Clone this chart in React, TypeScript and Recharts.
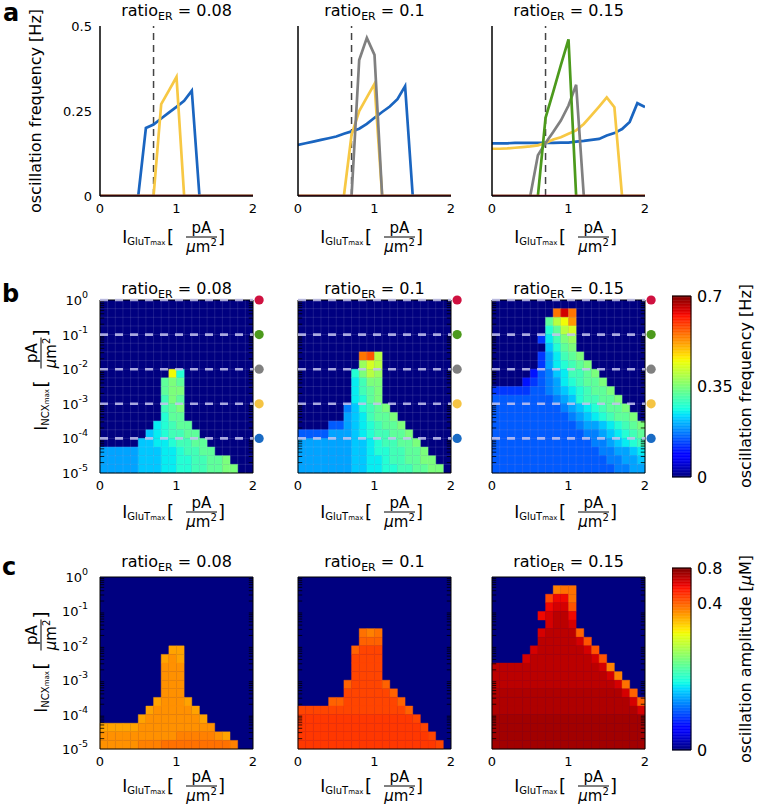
import React from 'react';
import {
  LineChart,
  Line,
  XAxis,
  YAxis,
  ReferenceLine,
  ReferenceArea,
  ReferenceDot,
  ScatterChart,
} from 'recharts';

const FONT = '"DejaVu Sans", Verdana, sans-serif';

// ---------------- data ----------------
const RATIOS = ['0.08', '0.1', '0.15'];
const GLUT = [0, 0.1, 0.2, 0.3, 0.4, 0.5, 0.6, 0.7, 0.8, 0.9, 1.0, 1.1, 1.2, 1.3, 1.4, 1.5, 1.6, 1.7, 1.8, 1.9, 2.0];
const GLUT_TICKS = [0, 1, 2];
const FREQ_TICKS_A = [0, 0.25, 0.5];
const NCX_LOG_EDGES = [0, -0.25, -0.5, -0.75, -1, -1.25, -1.5, -1.75, -2, -2.25, -2.5, -2.75, -3, -3.25, -3.5, -3.75, -4, -4.25, -4.5, -4.75, -5];
const NCX_DECADES = [-5, -4, -3, -2, -1, 0];
const DOT_DECADES = [0, -1, -2, -3, -4];
const DOT_COLORS = ['#cf1140', '#4c9a1c', '#808080', '#f5c443', '#1a6bc4'];
const STIM_LINE = 0.7;

// panel a: oscillation frequency [Hz] vs I_GluT (one array per NCX level)
const BLUE_R008 = [0, 0, 0, 0, 0, 0, 0.2, 0.21, 0.228, 0.245, 0.262, 0.28, 0.31, 0, 0, 0, 0, 0, 0, 0, 0];
const YELLOW_R008 = [0, 0, 0, 0, 0, 0, 0, 0, 0.27, 0.31, 0.35, 0, 0, 0, 0, 0, 0, 0, 0, 0, 0];
const GRAY_R008 = [0, 0, 0, 0, 0, 0, 0, 0, 0, 0, 0, 0, 0, 0, 0, 0, 0, 0, 0, 0, 0];
const GREEN_R008 = [0, 0, 0, 0, 0, 0, 0, 0, 0, 0, 0, 0, 0, 0, 0, 0, 0, 0, 0, 0, 0];
const RED_R008 = [0, 0, 0, 0, 0, 0, 0, 0, 0, 0, 0, 0, 0, 0, 0, 0, 0, 0, 0, 0, 0];

const BLUE_R010 = [0.15, 0.155, 0.16, 0.165, 0.17, 0.175, 0.183, 0.19, 0.198, 0.212, 0.23, 0.247, 0.263, 0.285, 0.323, 0, 0, 0, 0, 0, 0];
const YELLOW_R010 = [0, 0, 0, 0, 0, 0, 0, 0.18, 0.25, 0.29, 0.33, 0, 0, 0, 0, 0, 0, 0, 0, 0, 0];
const GRAY_R010 = [0, 0, 0, 0, 0, 0, 0, 0, 0.4, 0.465, 0.415, 0, 0, 0, 0, 0, 0, 0, 0, 0, 0];
const GREEN_R010 = [0, 0, 0, 0, 0, 0, 0, 0, 0, 0, 0, 0, 0, 0, 0, 0, 0, 0, 0, 0, 0];
const RED_R010 = [0, 0, 0, 0, 0, 0, 0, 0, 0, 0, 0, 0, 0, 0, 0, 0, 0, 0, 0, 0, 0];

const BLUE_R015 = [0.155, 0.155, 0.155, 0.156, 0.156, 0.156, 0.156, 0.156, 0.156, 0.157, 0.157, 0.16, 0.162, 0.165, 0.168, 0.178, 0.185, 0.197, 0.218, 0.273, 0.262];
const YELLOW_R015 = [0.139, 0.139, 0.14, 0.142, 0.144, 0.146, 0.149, 0.156, 0.166, 0.173, 0.183, 0.193, 0.212, 0.237, 0.263, 0.29, 0.261, 0, 0, 0, 0];
const GRAY_R015 = [0, 0, 0, 0, 0, 0, 0.12, 0.156, 0.188, 0.222, 0.266, 0.327, 0, 0, 0, 0, 0, 0, 0, 0, 0];
const GREEN_R015 = [0, 0, 0, 0, 0, 0, 0, 0.23, 0.306, 0.385, 0.461, 0, 0, 0, 0, 0, 0, 0, 0, 0, 0];
const RED_R015 = [0, 0, 0, 0, 0, 0, 0, 0, 0, 0, 0, 0, 0, 0, 0, 0, 0, 0, 0, 0, 0];

// panels b/c: grid rows from top (10^0) to bottom (10^-5), columns I_GluT 0..2.
// '.' = no oscillation; otherwise value = base36(char) * 0.025
const LEVEL_STEP = 0.025;
const FREQ_R008 = [
  '....................', '....................', '....................', '....................',
  '....................', '....................', '....................', '....................',
  '.........ib.........', '........ded.........', '........dee.........', '........ced.........',
  '........cde.........', '........bdd.........', '.......abcdd........', '......9abccdd.......',
  '.....99aabccdd......', '88888999aabccdd.....', '88888999aabbccdde...', '88888999aabbccddee..',
];
const FREQ_R010 = [
  '....................', '....................', '....................', '....................',
  '....................', '....................', '........mng.........', '........fhg.........',
  '.......begf.........', '.......acee.........', '.......acde.........', '.......abde.........',
  '......79bcde........', '......89acdde.......', '....6689abcdde......', '66668889abccdde.....',
  '888888899abccdde....', '888888899abbccdde...', '888888899aabccddee..', '888888899aabbccddee.',
];
const FREQ_R015 = [
  '....................', '........mqm.........', '.......dgil.........', '.......bdgh.........',
  '......5acef.........', '.......9bde.........', '......58acde........', '......58abcde.......',
  '.....4679accde......', '....45678abcdde.....', '5555566789abcdde....', '66666666789bccdde...',
  '666666666789abcdde..', '6666666666789abcdde.', '666666666667889abcde', '6666666666667789abcd',
  '66666666666667789abc', '6666666666666677889a', '66666666666666677889', '66666666666666667788',
];
const AMP_R008 = [
  '....................', '....................', '....................', '....................',
  '....................', '....................', '....................', '....................',
  '.........cc.........', '........cdc.........', '........ddd.........', '........ddd.........',
  '........ddd.........', '........ddd.........', '.......cdddc........', '......cdddddc.......',
  '.....cdddddddc......', 'cccccdddddddddd.....', 'ddddddddddeeeeedc...', 'dddddeeefffffffffe..',
];
const AMP_R010 = [
  '....................', '....................', '....................', '....................',
  '....................', '....................', '........fef.........', '........ggg.........',
  '.......giii.........', '.......iiii.........', '.......iiii.........', '.......iiii.........',
  '......giiiig........', '......iiiiiig.......', '....ggiiiiiiig......', 'iiiiiiiiiiiiiig.....',
  'jjjjjjjjjjjjjjji....', 'jjjjjjjjjjjjjjjji...', 'jjjjjjjjjjjjjjjjji..', 'jjjjjjjjjjjjjjjjjji.',
];
const AMP_R015 = [
  '....................', '........eff.........', '.......innf.........', '.......npph.........',
  '......nprrn.........', '.......prrp.........', '......prrrrg........', '......rrrrrph.......',
  '.....prrrrrrph......', '....prrrrrrrrph.....', 'rrrrrrrrrrrrrrpe....', 'rrrrrrrrrrrrrrrpe...',
  'rrrrrrrrrrrrrrrrpf..', 'ssssssssssssssssspg.', 'sssssssssssssssssspg',
  'sssssssssssssssssssp', 'tttttttttttttttttttt', 'tttttttttttttttttttt', 'tttttttttttttttttttt', 'tttttttttttttttttttt',
];
const FREQ_GRIDS = [FREQ_R008, FREQ_R010, FREQ_R015];
const AMP_GRIDS = [AMP_R008, AMP_R010, AMP_R015];
const FREQ_MAX = 0.7;
const FREQ_CB_TICKS = [0, 0.35, 0.7];
const AMP_MAX = 0.8;
const AMP_GAMMA = 0.31;
const AMP_CB_TICKS = [0, 0.4, 0.8];

const LINE_SETS = [
  { blue: BLUE_R008, yellow: YELLOW_R008, gray: GRAY_R008, green: GREEN_R008, red: RED_R008 },
  { blue: BLUE_R010, yellow: YELLOW_R010, gray: GRAY_R010, green: GREEN_R010, red: RED_R010 },
  { blue: BLUE_R015, yellow: YELLOW_R015, gray: GRAY_R015, green: GREEN_R015, red: RED_R015 },
];
const LINE_KEYS = [
  { key: 'blue', color: '#1a65c0' },
  { key: 'yellow', color: '#f7c844' },
  { key: 'gray', color: '#808080' },
  { key: 'green', color: '#4c9a1c' },
  { key: 'red', color: '#d0102e' },
];

// ---------------- layout ----------------
const COLS_X = [100, 298, 492];
const PW = 153;
const A_TOP = 26, A_H = 170;
const B_TOP = 300, B_H = 173;
const C_TOP = 577, C_H = 172;
const CB_X = 672, CB_W = 19;
const CB_STEPS = 120;
const MINOR_LEN = 0.055;

// ---------------- colormap ----------------
type Seg = [number, number][];
const JET_R: Seg = [[0, 0], [0.35, 0], [0.66, 1], [0.89, 1], [1, 0.5]];
const JET_G: Seg = [[0, 0], [0.125, 0], [0.375, 1], [0.64, 1], [0.91, 0], [1, 0]];
const JET_B: Seg = [[0, 0.5], [0.11, 1], [0.34, 1], [0.65, 0], [1, 0]];
function segv(p: Seg, t: number) {
  const u = Math.max(0, Math.min(1, t));
  for (let k = 1; k < p.length; k++) {
    if (u <= p[k][0]) {
      const [a, va] = p[k - 1];
      const [b, vb] = p[k];
      return va + ((vb - va) * (u - a)) / (b - a);
    }
  }
  return p[p.length - 1][1];
}
function jet(t: number) {
  const r = Math.round(255 * segv(JET_R, t));
  const g = Math.round(255 * segv(JET_G, t));
  const b = Math.round(255 * segv(JET_B, t));
  return `rgb(${r},${g},${b})`;
}
const ampNorm = (a: number) => Math.pow(Math.max(0, a) / AMP_MAX, AMP_GAMMA);

// minor log ticks (2..9 x 10^d)
const MINOR_TICKS: number[] = [];
for (let d = -5; d < 0; d++) for (let k = 2; k < 10; k++) MINOR_TICKS.push(d + Math.log10(k));

const TICK_STYLE = { fontSize: 13, fill: '#000', fontFamily: FONT };

function LogTick(props: any) {
  const { x, y, payload } = props;
  return (
    <text x={x} y={y} dy={5} textAnchor="end" fontFamily={FONT} fontSize={13} fill="#000">
      10
      <tspan fontSize={9.5} dy={-7}>{String(payload.value)}</tspan>
    </text>
  );
}

function LinePanel({ i }: { i: number }) {
  const x0 = COLS_X[i];
  const set: any = LINE_SETS[i];
  const data = GLUT.map((g, k) => ({
    x: g,
    blue: set.blue[k],
    yellow: set.yellow[k],
    gray: set.gray[k],
    green: set.green[k],
    red: set.red[k],
  }));
  return (
    <div style={{ position: 'absolute', left: x0 - 52, top: A_TOP - 10 }}>
      <LineChart width={52 + PW + 16} height={A_H + 70} data={data} margin={{ top: 10, right: 16, bottom: 0, left: 2 }}>
        <XAxis type="number" dataKey="x" domain={[0, 2]} ticks={GLUT_TICKS} interval={0} allowDataOverflow height={60}
          tickLine={false} axisLine={{ stroke: '#000', strokeWidth: 1.5 }} tick={TICK_STYLE} />
        <YAxis type="number" domain={[0, 0.5]} ticks={FREQ_TICKS_A} interval={0} allowDataOverflow width={50}
          tickLine={false} axisLine={{ stroke: '#000', strokeWidth: 1.5 }} tick={i === 0 ? TICK_STYLE : false}
          tickFormatter={(v: number) => String(v)} />
        <ReferenceLine x={STIM_LINE} stroke="#444" strokeDasharray="7 5" strokeWidth={1.5} />
        {LINE_KEYS.map((l) => (
          <Line key={l.key} type="linear" dataKey={l.key} stroke={l.color} strokeWidth={2.7} dot={false}
            isAnimationActive={false} />
        ))}
      </LineChart>
    </div>
  );
}

function HeatPanel({ i, kind }: { i: number; kind: 'freq' | 'amp' }) {
  const isFreq = kind === 'freq';
  const grid = isFreq ? FREQ_GRIDS[i] : AMP_GRIDS[i];
  const top = isFreq ? B_TOP : C_TOP;
  const h = isFreq ? B_H : C_H;
  const x0 = COLS_X[i];
  const cells: any[] = [];
  grid.forEach((row, r) => {
    for (let c = 0; c < 20; c++) {
      const ch = row[c];
      if (!ch || ch === '.') continue;
      const v = parseInt(ch, 36) * LEVEL_STEP;
      cells.push({
        x1: GLUT[c],
        x2: GLUT[c + 1],
        y1: NCX_LOG_EDGES[r + 1],
        y2: NCX_LOG_EDGES[r],
        fill: isFreq ? jet(v / FREQ_MAX) : jet(ampNorm(v)),
      });
    }
  });
  return (
    <div style={{ position: 'absolute', left: x0 - 52, top: top - 10 }}>
      <ScatterChart width={52 + PW + 16} height={h + 70} margin={{ top: 10, right: 16, bottom: 0, left: 2 }}>
        <XAxis type="number" dataKey="x" domain={[0, 2]} ticks={GLUT_TICKS} interval={0} allowDataOverflow height={60}
          tickLine={false} axisLine={false} tick={TICK_STYLE} />
        <YAxis type="number" dataKey="y" domain={[-5, 0]} ticks={NCX_DECADES} interval={0} allowDataOverflow width={50}
          tickLine={false} axisLine={false} tickMargin={6} tick={i === 0 ? <LogTick /> : false} />
        <ReferenceArea x1={0} x2={2} y1={-5} y2={0} fill={jet(0)} fillOpacity={1} stroke="none" />
        {cells.map((c, k) => (
          <ReferenceArea key={k} x1={c.x1} x2={c.x2} y1={c.y1} y2={c.y2} fill={c.fill} fillOpacity={1}
            stroke={c.fill} strokeWidth={0.4} />
        ))}
        {isFreq && GLUT.slice(1, 20).map((g) => (
          <ReferenceLine key={'gx' + g} x={g} stroke="#ffffff" strokeOpacity={0.14} strokeWidth={0.8} />
        ))}
        {isFreq && NCX_LOG_EDGES.slice(1, 20).map((e) => (
          <ReferenceLine key={'gy' + e} y={e} stroke="#ffffff" strokeOpacity={0.14} strokeWidth={0.8} />
        ))}
        {MINOR_TICKS.map((m) => (
          <ReferenceLine key={'ml' + m} segment={[{ x: 0, y: m }, { x: MINOR_LEN, y: m }]} stroke="#000"
            strokeWidth={0.8} />
        ))}
        {MINOR_TICKS.map((m) => (
          <ReferenceLine key={'mr' + m} segment={[{ x: 2 - MINOR_LEN, y: m }, { x: 2, y: m }]} stroke="#000"
            strokeWidth={0.8} />
        ))}
        {isFreq && DOT_DECADES.map((d) => (
          <ReferenceLine key={'dl' + d} y={d} stroke="#c4c4ee" strokeOpacity={0.85} strokeWidth={2.6}
            strokeDasharray="8 7" ifOverflow="visible" />
        ))}
        {isFreq && DOT_DECADES.map((d, k) => (
          <ReferenceDot key={'dot' + d} x={2.08} y={d} r={4.6} fill={DOT_COLORS[k]} stroke="none" ifOverflow="visible" />
        ))}
        <ReferenceArea x1={0} x2={2} y1={-5} y2={0} fill="none" stroke="#000" strokeWidth={1} ifOverflow="visible" />
      </ScatterChart>
    </div>
  );
}

function Colorbar({ top, height, kind }: { top: number; height: number; kind: 'freq' | 'amp' }) {
  const isFreq = kind === 'freq';
  const ticks = isFreq ? FREQ_CB_TICKS : AMP_CB_TICKS.map(ampNorm);
  const labels = isFreq ? FREQ_CB_TICKS.map(String) : AMP_CB_TICKS.map(String);
  const dmax = isFreq ? FREQ_MAX : 1;
  const stripes = Array.from({ length: CB_STEPS }, (_, k) => ({
    y1: (k / CB_STEPS) * dmax,
    y2: ((k + 1) / CB_STEPS) * dmax,
    fill: jet((k + 0.5) / CB_STEPS),
  }));
  return (
    <div style={{ position: 'absolute', left: CB_X, top: top - 10 }}>
      <ScatterChart width={CB_W + 60} height={height + 21} margin={{ top: 10, right: 0, bottom: 0, left: 0 }}>
        <XAxis type="number" dataKey="x" domain={[0, 1]} allowDataOverflow height={11} tick={false} axisLine={false}
          tickLine={false} />
        <YAxis orientation="right" type="number" dataKey="y" domain={[0, dmax]} allowDataOverflow ticks={ticks}
          interval={0} width={60} axisLine={false} tickLine={false} tickSize={4}
          tick={{ fontSize: 16, fill: '#000', fontFamily: FONT }}
          tickFormatter={(v: number) => {
            let best = 0;
            ticks.forEach((t, k) => {
              if (Math.abs(t - v) < Math.abs(ticks[best] - v)) best = k;
            });
            return labels[best];
          }} />
        {stripes.map((s, k) => (
          <ReferenceArea key={k} x1={0} x2={1} y1={s.y1} y2={s.y2} fill={s.fill} fillOpacity={1} stroke={s.fill}
            strokeWidth={0.5} />
        ))}
        <ReferenceArea x1={0} x2={1} y1={0} y2={dmax} fill="none" stroke="#000" strokeWidth={1} ifOverflow="visible" />
      </ScatterChart>
    </div>
  );
}

function Title({ cx, y, ratio }: { cx: number; y: number; ratio: string }) {
  return (
    <text x={cx} y={y} textAnchor="middle" fontFamily={FONT} fontSize={16} fill="#000">
      ratio
      <tspan fontSize={11} dy={4}>ER</tspan>
      <tspan dy={-4}>{' = ' + ratio}</tspan>
    </text>
  );
}

function UnitLabel({ cx, cy, sub, rot = 0 }: { cx: number; cy: number; sub: string; rot?: number }) {
  return (
    <g transform={`translate(${cx},${cy}) rotate(${rot})`} fontFamily={FONT} fill="#000">
      <text x={-2.5} y={6} textAnchor="end">
        <tspan fontSize={17}>I</tspan>
        <tspan fontSize={10} dy={1.5}>{sub}</tspan>
        <tspan fontSize={7}>max</tspan>
        <tspan fontSize={18} dy={-1.5} dx={1.5}>[</tspan>
      </text>
      <text x={25} y={-4.5} textAnchor="middle" fontSize={15}>pA</text>
      <line x1={9.5} x2={40.5} y1={0} y2={0} stroke="#000" strokeWidth={1} />
      <text x={25} y={14.5} textAnchor="middle" fontSize={15}>
        <tspan fontStyle="italic">μ</tspan>m<tspan fontSize={10} dy={-6}>2</tspan>
      </text>
      <text x={41.5} y={6} fontSize={18}>]</text>
    </g>
  );
}

function Overlay() {
  return (
    <svg width={760} height={811} style={{ position: 'absolute', left: 0, top: 0, pointerEvents: 'none' }}>
      <text x={3} y={21} fontFamily={FONT} fontSize={24} fontWeight="bold">a</text>
      <text x={2} y={302} fontFamily={FONT} fontSize={24} fontWeight="bold">b</text>
      <text x={2} y={575} fontFamily={FONT} fontSize={24} fontWeight="bold">c</text>
      {COLS_X.map((x, i) => (
        <g key={'t' + i}>
          <Title cx={x + PW / 2} y={16} ratio={RATIOS[i]} />
          <Title cx={x + PW / 2} y={294} ratio={RATIOS[i]} />
          <Title cx={x + PW / 2} y={567} ratio={RATIOS[i]} />
          <UnitLabel cx={x + PW / 2} cy={237} sub="GluT" />
          <UnitLabel cx={x + PW / 2} cy={512} sub="GluT" />
          <UnitLabel cx={x + PW / 2} cy={786} sub="GluT" />
        </g>
      ))}
      <text transform="translate(41,111) rotate(-90)" textAnchor="middle" fontFamily={FONT} fontSize={16}>
        oscillation frequency [Hz]
      </text>
      <UnitLabel cx={41} cy={378} sub="NCX" rot={-90} />
      <UnitLabel cx={41} cy={660} sub="NCX" rot={-90} />
      <text transform="translate(751,386) rotate(-90)" textAnchor="middle" fontFamily={FONT} fontSize={16}>
        oscillation frequency [Hz]
      </text>
      <text transform="translate(751,659) rotate(-90)" textAnchor="middle" fontFamily={FONT} fontSize={16}>
        oscillation amplitude [<tspan fontStyle="italic">μ</tspan>M]
      </text>
    </svg>
  );
}

export default function App() {
  return (
    <div style={{ position: 'absolute', left: 0, top: 0, width: 760, height: 811, background: '#fff', overflow: 'hidden' }}>
      {[0, 1, 2].map((i) => <LinePanel key={'a' + i} i={i} />)}
      {[0, 1, 2].map((i) => <HeatPanel key={'b' + i} i={i} kind="freq" />)}
      {[0, 1, 2].map((i) => <HeatPanel key={'c' + i} i={i} kind="amp" />)}
      <Colorbar top={296} height={181} kind="freq" />
      <Colorbar top={568} height={182} kind="amp" />
      <Overlay />
    </div>
  );
}
